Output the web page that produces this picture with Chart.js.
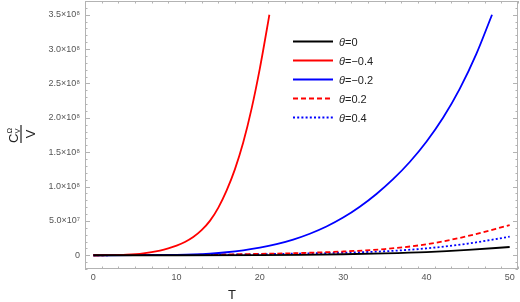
<!DOCTYPE html>
<html>
<head>
<meta charset="utf-8">
<script src="https://cdn.jsdelivr.net/npm/chart.js@4"></script>
<style>
  html, body { margin: 0; padding: 0; background: #fff; }
  #wrap { width: 520px; height: 302px; position: relative; }
</style>
</head>
<body>
<div id="wrap"><canvas id="cvChart" width="520" height="302"></canvas></div>
<script>
// values
const tTheta0 = [0, 10, 20, 25, 30, 35, 40, 45, 50];
const cTheta0 = [0, 2e4, 3e5, 7e5, 1.5e6, 2.8e6, 4.7e6, 7.8e6, 1.2e7];

const tThetaM04 = [0, 2, 4, 6, 8, 9, 10, 11, 12, 13, 14, 15, 16, 17, 18, 19, 20, 21, 21.14];
const cThetaM04 = [0, 1e5, 8e5, 2.8e6, 6.9e6, 1.0e7, 1.4e7, 1.93e7, 2.65e7, 3.65e7, 5.0e7, 6.9e7, 9.4e7, 1.25e8, 1.64e8, 2.13e8, 2.72e8, 3.4e8, 3.5e8];

const tThetaM02 = [0, 5, 10, 12, 14, 16, 18, 20, 22, 24, 26, 28, 30, 32, 34, 36, 38, 40, 42, 44, 46, 47.88];
const cThetaM02 = [0, 1e5, 7e5, 1.3e6, 2.5e6, 4.4e6, 7.2e6, 1.1e7, 1.61e7, 2.28e7, 3.13e7, 4.18e7, 5.48e7, 7.06e7, 8.92e7, 1.107e8, 1.357e8, 1.652e8, 2.0e8, 2.42e8, 2.93e8, 3.5e8];

const tTheta02 = [0, 10, 20, 25, 30, 35, 40, 45, 50];
const cTheta02 = [0, 4e5, 2e6, 3.3e6, 5.5e6, 9e6, 1.6e7, 2.8e7, 4.4e7];

const tTheta04 = [0, 10, 20, 25, 30, 35, 40, 45, 50];
const cTheta04 = [0, 3e5, 1.5e6, 2.5e6, 3.8e6, 5.8e6, 1.0e7, 1.7e7, 2.7e7];

const xTicks = [0, 10, 20, 30, 40, 50];
const yTicks = [0, 5e7, 1e8, 1.5e8, 2e8, 2.5e8, 3e8, 3.5e8];
const yTickLabels = ['0', '5.0×10⁷', '1.0×10⁸', '1.5×10⁸', '2.0×10⁸', '2.5×10⁸', '3.0×10⁸', '3.5×10⁸'];

const seriesNames = ['=0', '=−0.4', '=−0.2', '=0.2', '=0.4'];

function pts(xs, ys) {
  return xs.map((x, i) => ({ x: x, y: ys[i] }));
}

const FRAME = '#b3b3b3';

// frame with inward ticks, axis titles and legend
const decor = {
  id: 'decor',
  beforeDatasetsDraw(chart) {
    const ctx = chart.ctx;
    const a = chart.chartArea;
    const xs = chart.scales.x, ys = chart.scales.y;
    ctx.save();
    ctx.strokeStyle = FRAME;
    ctx.lineWidth = 1;
    ctx.strokeRect(a.left + 0.5, a.top + 0.5, a.right - a.left - 1, a.bottom - a.top - 1);
    ctx.beginPath();
    for (let v = -1; v <= 51; v += 2) {
      if (v < xs.min || v > xs.max) continue;
      const px = Math.round(xs.getPixelForValue(v)) + 0.5;
      const len = (v % 10 === 0) ? 5 : 2.5;
      ctx.moveTo(px, a.bottom); ctx.lineTo(px, a.bottom - len);
      ctx.moveTo(px, a.top); ctx.lineTo(px, a.top + len);
    }
    for (let v = -2e7; v <= 3.7e8; v += 1e7) {
      if (v < ys.min || v > ys.max) continue;
      const py = Math.round(ys.getPixelForValue(v)) + 0.5;
      const len = (Math.round(v / 1e7) % 5 === 0) ? 5 : 2.5;
      ctx.moveTo(a.left, py); ctx.lineTo(a.left + len, py);
      ctx.moveTo(a.right, py); ctx.lineTo(a.right - len, py);
    }
    ctx.stroke();
    ctx.restore();
  },
  afterDraw(chart) {
    const ctx = chart.ctx;
    ctx.save();
    // x title
    ctx.fillStyle = '#222';
    ctx.font = '13px "Liberation Sans", Arial, sans-serif';
    ctx.textAlign = 'center';
    ctx.textBaseline = 'alphabetic';
    ctx.fillText('T', 232, 299);

    // y title: fraction C_V^Ω / V, rotated
    ctx.translate(21, 134);
    ctx.rotate(-Math.PI / 2);
    ctx.textAlign = 'left';
    ctx.font = '13px "Liberation Sans", Arial, sans-serif';
    ctx.fillText('C', -9, -3.5);
    ctx.font = '7.5px "Liberation Sans", Arial, sans-serif';
    ctx.fillText('Ω', 0.5, -9);
    ctx.fillText('V', 0.5, -1.5);
    ctx.fillRect(-9, -0.6, 18, 1.2);
    ctx.font = '13px "Liberation Sans", Arial, sans-serif';
    ctx.textAlign = 'center';
    ctx.fillText('V', 0, 13.5);
    ctx.setTransform(1, 0, 0, 1, 0, 0);

    // legend
    const rowY = [41, 60, 79, 98, 117];
    chart.data.datasets.forEach((ds, i) => {
      const y = rowY[i] + 0.5;
      ctx.strokeStyle = ds.borderColor;
      ctx.lineWidth = 2;
      ctx.setLineDash(ds.borderDash || []);
      ctx.beginPath();
      ctx.moveTo(293, y);
      ctx.lineTo(333, y);
      ctx.stroke();
      ctx.setLineDash([]);
      ctx.fillStyle = '#222';
      ctx.textAlign = 'left';
      ctx.textBaseline = 'middle';
      ctx.font = 'italic 11px "Liberation Sans", Arial, sans-serif';
      ctx.fillText('θ', 339, y + 1);
      const w = ctx.measureText('θ').width;
      ctx.font = '11px "Liberation Sans", Arial, sans-serif';
      ctx.fillText(seriesNames[i], 339 + w, y + 1);
    });
    ctx.restore();
  }
};

const common = {
  fill: false,
  pointRadius: 0,
  borderWidth: 1.8,
  cubicInterpolationMode: 'monotone'
};

new Chart(document.getElementById('cvChart').getContext('2d'), {
  type: 'line',
  data: {
    datasets: [
      Object.assign({ label: seriesNames[0], data: pts(tTheta0, cTheta0), borderColor: '#000000' }, common),
      Object.assign({ label: seriesNames[1], data: pts(tThetaM04, cThetaM04), borderColor: '#ff0000' }, common),
      Object.assign({ label: seriesNames[2], data: pts(tThetaM02, cThetaM02), borderColor: '#0000ff' }, common),
      Object.assign({ label: seriesNames[3], data: pts(tTheta02, cTheta02), borderColor: '#ff0000', borderDash: [5, 3] }, common),
      Object.assign({ label: seriesNames[4], data: pts(tTheta04, cTheta04), borderColor: '#0000ff', borderDash: [2, 2.2] }, common)
    ]
  },
  options: {
    responsive: false,
    animation: false,
    devicePixelRatio: 1,
    layout: { padding: { top: 1, right: 2, left: 0, bottom: 0 } },
    plugins: { legend: { display: false }, tooltip: { enabled: false } },
    scales: {
      x: {
        type: 'linear',
        min: -1,
        max: 51,
        afterBuildTicks: (s) => { s.ticks = xTicks.map(v => ({ value: v })); },
        afterFit: (s) => { s.height = 33; s.paddingLeft = 0; s.paddingRight = 0; },
        grid: { display: false, drawTicks: false },
        border: { display: false },
        ticks: {
          padding: 3,
          maxRotation: 0,
          color: '#555',
          font: { size: 9, family: '"Liberation Sans", Arial, sans-serif' },
          callback: (v) => String(v)
        }
      },
      y: {
        type: 'linear',
        min: -2.0e7,
        max: 3.7e8,
        afterBuildTicks: (s) => { s.ticks = yTicks.map(v => ({ value: v })); },
        afterFit: (s) => { s.width = 85; s.paddingTop = 0; s.paddingBottom = 0; },
        grid: { display: false, drawTicks: false },
        border: { display: false },
        ticks: {
          padding: 5,
          color: '#555',
          font: { size: 9, family: '"Liberation Sans", Arial, sans-serif' },
          callback: (v) => yTickLabels[yTicks.indexOf(v)]
        }
      }
    }
  },
  plugins: [decor]
});
</script>
</body>
</html>
